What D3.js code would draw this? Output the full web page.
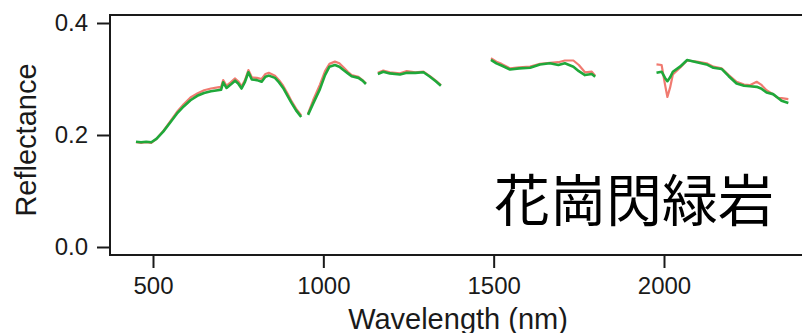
<!DOCTYPE html>
<html>
<head>
<meta charset="utf-8">
<script src="https://cdn.jsdelivr.net/npm/d3@7"></script>
<style>
  body { margin: 0; background: #fff; }
  svg { display: block; }
</style>
</head>
<body>
<div id="chart"></div>
<script>
// wavelength (nm); null marks the water absorption gaps
const wavelength = [
  450, 465, 480, 495, 510, 530, 550, 570, 590, 610, 630, 650, 670, 690, 700, 706, 716, 728, 741, 750,
  760, 770, 780, 790, 805, 819, 830, 840, 858, 870, 882, 895, 907, 920, 935, null,
  955, 970, 990, 1005, 1018, 1034, 1047, 1059, 1072, 1083, 1103, 1115, 1125, null,
  1160, 1176, 1195, 1225, 1245, 1270, 1294, 1313, 1330, 1345, null,
  1492, 1508, 1523, 1548, 1575, 1607, 1636, 1665, 1690, 1709, 1734, 1750, 1768, 1788, 1798, null,
  1978, 1993, 2003, 2010, 2018, 2026, 2047, 2068, 2096, 2125, 2145, 2169, 2190, 2213, 2235, 2252,
  2272, 2285, 2301, 2320, 2335, 2345, 2365
];
const greenRefl = [
  0.188, 0.187, 0.188, 0.187, 0.193, 0.206, 0.222, 0.238, 0.251, 0.262, 0.270, 0.275, 0.278, 0.280, 0.281, 0.294, 0.284, 0.290, 0.297, 0.292,
  0.283, 0.295, 0.312, 0.299, 0.298, 0.295, 0.304, 0.306, 0.302, 0.294, 0.284, 0.270, 0.257, 0.244, 0.232, null,
  0.236, 0.256, 0.282, 0.307, 0.322, 0.325, 0.322, 0.316, 0.310, 0.305, 0.302, 0.297, 0.291, null,
  0.309, 0.313, 0.310, 0.308, 0.311, 0.311, 0.312, 0.304, 0.296, 0.288, null,
  0.334, 0.328, 0.324, 0.317, 0.319, 0.320, 0.326, 0.328, 0.325, 0.328, 0.322, 0.314, 0.307, 0.309, 0.304, null,
  0.311, 0.313, 0.302, 0.296, 0.303, 0.313, 0.322, 0.334, 0.330, 0.326, 0.320, 0.318, 0.305, 0.292, 0.288, 0.287,
  0.286, 0.283, 0.276, 0.273, 0.266, 0.261, 0.257
];
const redRefl = [
  0.187, 0.186, 0.187, 0.186, 0.193, 0.207, 0.224, 0.241, 0.255, 0.267, 0.274, 0.280, 0.283, 0.285, 0.286, 0.298, 0.288, 0.294, 0.301, 0.296,
  0.287, 0.298, 0.316, 0.303, 0.302, 0.300, 0.309, 0.311, 0.306, 0.298, 0.288, 0.274, 0.260, 0.247, 0.235, null,
  0.238, 0.262, 0.290, 0.314, 0.327, 0.331, 0.328, 0.321, 0.313, 0.307, 0.304, 0.298, 0.292, null,
  0.311, 0.315, 0.312, 0.310, 0.314, 0.312, 0.313, 0.305, 0.297, 0.289, null,
  0.337, 0.331, 0.327, 0.319, 0.321, 0.322, 0.327, 0.329, 0.330, 0.333, 0.333, 0.325, 0.312, 0.313, 0.306, null,
  0.326, 0.325, 0.290, 0.268, 0.285, 0.308, 0.320, 0.333, 0.331, 0.328, 0.322, 0.319, 0.307, 0.295, 0.290, 0.289,
  0.295, 0.290, 0.280, 0.273, 0.266, 0.266, 0.264
];
const xTicks = [500, 1000, 1500, 2000];
const yTicks = [0.0, 0.2, 0.4];

const width = 802;
const height = 333;
const box = { left: 110, top: 15, bottom: 255 };

const x = d3.scaleLinear().domain([500, 2000]).range([153, 664]);
const y = d3.scaleLinear().domain([0, 0.4]).range([247, 23]);

const svg = d3.select('#chart')
  .append('svg')
  .attr('width', width)
  .attr('height', height)
  .style('font-family', '"Liberation Sans", Arial, sans-serif');

// plot box (right side runs off the picture)
svg.append('rect')
  .attr('x', box.left)
  .attr('y', box.top)
  .attr('width', width + 10 - box.left)
  .attr('height', box.bottom - box.top)
  .attr('fill', 'none')
  .attr('stroke', '#1a1a1a')
  .attr('stroke-width', 2);

const yAxis = svg.append('g')
  .attr('transform', `translate(${box.left},0)`)
  .call(d3.axisLeft(y).tickValues(yTicks).tickFormat(d3.format('.1f')).tickSize(13).tickPadding(9));

const xAxis = svg.append('g')
  .attr('transform', `translate(0,${box.bottom})`)
  .call(d3.axisBottom(x).tickValues(xTicks).tickFormat(d3.format('d')).tickSize(13).tickPadding(9));

[xAxis, yAxis].forEach(g => {
  g.select('.domain').remove();
  g.selectAll('line').attr('stroke', '#1a1a1a').attr('stroke-width', 2);
  g.selectAll('text')
    .attr('fill', '#1a1a1a')
    .style('font-size', '24px')
    .style('font-family', '"Liberation Sans", Arial, sans-serif');
});

svg.append('text')
  .attr('x', 458)
  .attr('y', 329)
  .attr('text-anchor', 'middle')
  .attr('fill', '#1a1a1a')
  .style('font-size', '29px')
  .text('Wavelength (nm)');

svg.append('text')
  .attr('transform', 'translate(36,140) rotate(-90)')
  .attr('text-anchor', 'middle')
  .attr('fill', '#1a1a1a')
  .style('font-size', '29px')
  .text('Reflectance');

const points = wavelength.map((w, i) => ({ w: w, g: greenRefl[i], r: redRefl[i] }));

const lineRed = d3.line()
  .defined(d => d.w !== null && d.r !== null)
  .x(d => x(d.w))
  .y(d => y(d.r));

const lineGreen = d3.line()
  .defined(d => d.w !== null && d.g !== null)
  .x(d => x(d.w))
  .y(d => y(d.g));

svg.append('path')
  .datum(points)
  .attr('d', lineRed)
  .attr('fill', 'none')
  .attr('stroke', '#f07a70')
  .attr('stroke-width', 2.2)
  .attr('stroke-linejoin', 'round');

svg.append('path')
  .datum(points)
  .attr('d', lineGreen)
  .attr('fill', 'none')
  .attr('stroke', '#1fa83a')
  .attr('stroke-width', 2.6)
  .attr('stroke-linejoin', 'round');

svg.append('text')
  .attr('x', 494)
  .attr('y', 221)
  .attr('fill', '#000')
  .style('font-size', '56px')
  .style('font-family', '"Noto Sans CJK JP", sans-serif')
  .text('花崗閃緑岩');
</script>
</body>
</html>
